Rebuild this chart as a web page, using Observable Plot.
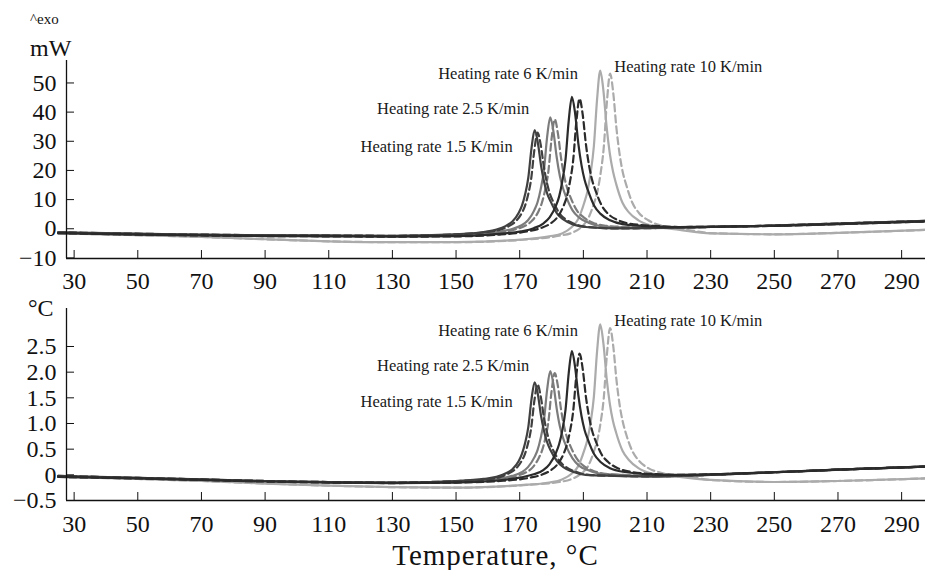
<!DOCTYPE html>
<html><head><meta charset="utf-8">
<script src="https://cdn.jsdelivr.net/npm/d3@7"></script>
<script src="https://cdn.jsdelivr.net/npm/@observablehq/plot@0.6"></script>
<style>
body{margin:0;background:#fff;}
#wrap{position:relative;width:925px;height:570px;font-family:"Liberation Serif","Times New Roman",serif;color:#111;overflow:hidden;background:#fff;}
.lab{position:absolute;line-height:1;white-space:nowrap;}
#top{position:absolute;left:0;top:0;}
#bot{position:absolute;left:0;top:290px;}
#xlab{position:absolute;left:66px;width:859px;top:541px;text-align:center;font-size:29px;letter-spacing:1px;line-height:1;}
</style></head>
<body><div id="wrap">
<div id="top"></div><div id="bot"></div>
<div class="lab" style="left:30px;top:12px;font-size:15px;">^exo</div>
<div class="lab" style="left:30px;top:36px;font-size:24px;">mW</div>
<div class="lab" style="left:28px;top:296px;font-size:24px;">°C</div>
<div id="xlab">Temperature, °C</div>
</div>
<script>
// ---------- data ----------
const xTicks = [30, 50, 70, 90, 110, 130, 150, 170, 190, 210, 230, 250, 270, 290];
const mwTicks = [-10, 0, 10, 20, 30, 40, 50];
const cTicks = [-0.5, 0, 0.5, 1, 1.5, 2, 2.5];
const rates = ["1.5", "2.5", "6", "10"];

// DSC signal, mW  ([temperature °C, value])
const mw15 = [[25,-1.2],[50,-1.7],[70,-2.0],[90,-2.2],[110,-2.3],[130,-2.4],[149.7,-1.9],[158.7,-1.1],[162.7,-0.3],[165.7,1.0],[167.7,2.5],[169.7,5.5],[170.7,7.9],[171.7,11.8],[172.7,17.5],[173.7,27.6],[174.7,33.8],[175.7,29.5],[176.7,21.7],[177.7,15.9],[178.7,11.9],[179.7,9.4],[181.7,5.3],[183.7,3.2],[186.7,1.5],[190.7,0.6],[199.7,0.1],[210,0.2],[220,0.4],[230,0.6],[250,1.1],[270,1.8],[297.5,2.7]];
const mw15d = [[25,-1.2],[50,-1.7],[70,-2.0],[90,-2.2],[110,-2.3],[130,-2.4],[150.6,-1.9],[159.6,-1.1],[163.6,-0.4],[166.6,0.9],[168.6,2.4],[170.6,5.3],[171.6,7.7],[172.6,11.5],[173.6,17.1],[174.6,27.0],[175.6,33.0],[176.6,28.8],[177.6,21.2],[178.6,15.5],[179.6,11.6],[180.6,9.1],[182.6,5.1],[184.6,3.1],[187.6,1.5],[191.6,0.6],[200.6,0.1],[210,0.2],[220,0.4],[230,0.6],[250,1.1],[270,1.8],[297.5,2.7]];
const mw25 = [[25,-1.3],[50,-1.8],[70,-2.1],[90,-2.3],[110,-2.4],[130,-2.5],[154.6,-1.9],[163.6,-1.0],[167.6,-0.1],[170.6,1.2],[172.6,2.9],[174.6,6.4],[175.6,9.1],[176.6,13.6],[177.6,19.9],[178.6,31.3],[179.6,38.2],[180.6,33.3],[181.6,24.7],[182.6,18.2],[183.6,13.9],[184.6,10.9],[186.6,6.3],[188.6,3.9],[191.6,2.1],[195.6,0.9],[204.6,0.4],[215,0.3],[230,0.6],[250,1.1],[270,1.8],[297.5,2.6]];
const mw25d = [[25,-1.3],[50,-1.8],[70,-2.1],[90,-2.3],[110,-2.4],[130,-2.5],[156,-1.9],[165,-1.1],[169,-0.1],[172,1.2],[174,2.9],[176,6.2],[177,9.0],[178,13.4],[179,19.6],[180,30.7],[181,37.5],[182,32.7],[183,24.2],[184,17.9],[185,13.6],[186,10.7],[188,6.2],[190,4.0],[193,2.1],[197,1.0],[206,0.5],[215,0.3],[230,0.6],[250,1.1],[270,1.8],[297.5,2.6]];
const mw6 = [[25,-1.5],[50,-2.0],[70,-2.3],[90,-2.5],[110,-2.6],[130,-2.7],[150,-2.5],[161.4,-1.9],[170.4,-0.9],[174.4,0.2],[177.4,1.8],[179.4,3.9],[181.4,7.9],[182.4,11.1],[183.4,16.4],[184.4,23.8],[185.4,37.1],[186.4,45.2],[187.4,39.6],[188.4,29.4],[189.4,21.9],[190.4,16.7],[191.4,13.3],[193.4,7.9],[195.4,5.1],[198.4,2.9],[202.4,1.6],[211.4,0.8],[220,0.6],[230,0.7],[250,1.0],[270,1.6],[297.5,2.5]];
const mw6d = [[25,-1.5],[50,-2.0],[70,-2.3],[90,-2.5],[110,-2.6],[130,-2.7],[150,-2.6],[163.8,-2.0],[172.8,-0.8],[176.8,0.3],[179.8,1.9],[181.8,3.9],[183.8,7.9],[184.8,11.0],[185.8,16.2],[186.8,23.5],[187.8,36.7],[188.8,44.6],[189.8,39.1],[190.8,29.0],[191.8,21.6],[192.8,16.5],[193.8,13.2],[195.8,7.9],[197.8,5.1],[200.8,3.0],[204.8,1.7],[213.8,0.9],[220,0.6],[230,0.7],[250,1.0],[270,1.6],[297.5,2.5]];
const mw10 = [[25,-1.6],[50,-2.2],[70,-2.8],[90,-3.6],[110,-4.3],[130,-4.6],[150,-4.6],[170.3,-3.7],[179.3,-2.6],[183.3,-1.6],[186.3,0.5],[188.3,3.2],[190.3,9.0],[191.3,12.9],[192.3,19.2],[193.3,28.3],[194.3,44.3],[195.3,54.2],[196.3,47.4],[197.3,35.0],[198.3,25.9],[199.3,19.7],[200.3,15.4],[202.3,8.9],[204.3,5.6],[207.3,2.9],[211.3,1.1],[220.3,-0.4],[230,-1.6],[250,-1.9],[270,-1.4],[297.5,-0.4]];
const mw10d = [[25,-1.6],[50,-2.2],[70,-2.8],[90,-3.6],[110,-4.3],[130,-4.6],[150,-4.6],[173.4,-3.6],[182.4,-2.4],[186.4,-1.4],[189.4,0.6],[191.4,3.3],[193.4,8.9],[194.4,12.7],[195.4,18.9],[196.4,27.8],[197.4,43.5],[198.4,53.2],[199.4,46.5],[200.4,34.4],[201.4,25.5],[202.4,19.3],[203.4,15.3],[205.4,8.9],[207.4,5.5],[210.4,2.9],[214.4,1.1],[223.4,-0.5],[230,-1.5],[250,-1.9],[270,-1.4],[297.5,-0.4]];

// temperature difference signal, °C
const c15 = [[25,-0.02],[50,-0.06],[70,-0.09],[90,-0.12],[110,-0.14],[130,-0.15],[149.7,-0.12],[158.7,-0.08],[162.7,-0.04],[165.7,0.03],[167.7,0.11],[169.7,0.27],[170.7,0.41],[171.7,0.62],[172.7,0.93],[173.7,1.47],[174.7,1.80],[175.7,1.57],[176.7,1.15],[177.7,0.84],[178.7,0.62],[179.7,0.48],[181.7,0.27],[183.7,0.15],[186.7,0.06],[190.7,0.00],[199.7,-0.02],[210,-0.03],[220,-0.02],[230,0.00],[250,0.05],[270,0.10],[297.5,0.16]];
const c15d = [[25,-0.02],[50,-0.06],[70,-0.09],[90,-0.12],[110,-0.14],[130,-0.15],[150.6,-0.12],[159.6,-0.09],[163.6,-0.05],[166.6,0.03],[168.6,0.11],[170.6,0.27],[171.6,0.40],[172.6,0.61],[173.6,0.91],[174.6,1.44],[175.6,1.76],[176.6,1.53],[177.6,1.12],[178.6,0.82],[179.6,0.61],[180.6,0.47],[182.6,0.26],[184.6,0.15],[187.6,0.06],[191.6,0.00],[200.6,-0.02],[210,-0.03],[220,-0.02],[230,0.00],[250,0.05],[270,0.10],[297.5,0.16]];
const c25 = [[25,-0.03],[50,-0.06],[70,-0.09],[90,-0.12],[110,-0.14],[130,-0.15],[154.6,-0.12],[163.6,-0.08],[167.6,-0.02],[170.6,0.05],[172.6,0.15],[174.6,0.34],[175.6,0.48],[176.6,0.72],[177.6,1.05],[178.6,1.65],[179.6,2.02],[180.6,1.76],[181.6,1.30],[182.6,0.95],[183.6,0.72],[184.6,0.56],[186.6,0.32],[188.6,0.18],[191.6,0.09],[195.6,0.02],[204.6,-0.01],[210,-0.03],[220,-0.02],[230,0.00],[250,0.05],[270,0.10],[297.5,0.16]];
const c25d = [[25,-0.03],[50,-0.06],[70,-0.09],[90,-0.12],[110,-0.14],[130,-0.15],[156,-0.12],[165,-0.08],[169,-0.02],[172,0.05],[174,0.14],[176,0.33],[177,0.47],[178,0.70],[179,1.03],[180,1.62],[181,1.98],[182,1.73],[183,1.27],[184,0.93],[185,0.70],[186,0.55],[188,0.31],[190,0.18],[193,0.08],[197,0.02],[206,-0.01],[215,-0.03],[230,0.00],[250,0.05],[270,0.10],[297.5,0.16]];
const c6 = [[25,-0.04],[50,-0.07],[70,-0.10],[90,-0.13],[110,-0.15],[130,-0.16],[150,-0.15],[161.4,-0.12],[170.4,-0.05],[174.4,0.01],[177.4,0.09],[179.4,0.21],[181.4,0.43],[182.4,0.60],[183.4,0.87],[184.4,1.27],[185.4,1.98],[186.4,2.41],[187.4,2.10],[188.4,1.56],[189.4,1.15],[190.4,0.87],[191.4,0.69],[193.4,0.40],[195.4,0.25],[198.4,0.13],[202.4,0.06],[211.4,0.01],[220,0.00],[230,0.01],[250,0.05],[270,0.10],[297.5,0.16]];
const c6d = [[25,-0.04],[50,-0.07],[70,-0.10],[90,-0.13],[110,-0.15],[130,-0.16],[150,-0.15],[163.8,-0.12],[172.8,-0.06],[176.8,0.00],[179.8,0.09],[181.8,0.20],[183.8,0.41],[184.8,0.58],[185.8,0.85],[186.8,1.24],[187.8,1.94],[188.8,2.36],[189.8,2.06],[190.8,1.52],[191.8,1.13],[192.8,0.85],[193.8,0.67],[195.8,0.39],[197.8,0.25],[200.8,0.13],[204.8,0.06],[213.8,0.01],[220,0.00],[230,0.01],[250,0.05],[270,0.10],[297.5,0.16]];
const c10 = [[25,-0.04],[50,-0.08],[70,-0.12],[90,-0.17],[110,-0.21],[130,-0.24],[150,-0.25],[170.3,-0.20],[179.3,-0.15],[183.3,-0.09],[186.3,0.02],[188.3,0.16],[190.3,0.48],[191.3,0.69],[192.3,1.03],[193.3,1.52],[194.3,2.40],[195.3,2.93],[196.3,2.56],[197.3,1.89],[198.3,1.39],[199.3,1.05],[200.3,0.82],[202.3,0.47],[204.3,0.29],[207.3,0.13],[211.3,0.03],[220.3,-0.04],[230,-0.10],[250,-0.14],[270,-0.12],[297.5,-0.07]];
const c10d = [[25,-0.04],[50,-0.08],[70,-0.12],[90,-0.17],[110,-0.21],[130,-0.24],[150,-0.25],[173.4,-0.19],[182.4,-0.14],[186.4,-0.08],[189.4,0.03],[191.4,0.16],[193.4,0.47],[194.4,0.68],[195.4,1.01],[196.4,1.49],[197.4,2.34],[198.4,2.86],[199.4,2.50],[200.4,1.85],[201.4,1.36],[202.4,1.03],[203.4,0.80],[205.4,0.46],[207.4,0.28],[210.4,0.13],[214.4,0.04],[223.4,-0.04],[230,-0.10],[250,-0.14],[270,-0.12],[297.5,-0.07]];

// ---------- series tables ----------
const seriesMW = [
  {rate: "10", dashed: true, data: mw10d}, {rate: "10", dashed: false, data: mw10},
  {rate: "2.5", dashed: true, data: mw25d}, {rate: "2.5", dashed: false, data: mw25},
  {rate: "1.5", dashed: true, data: mw15d}, {rate: "1.5", dashed: false, data: mw15},
  {rate: "6", dashed: true, data: mw6d}, {rate: "6", dashed: false, data: mw6}
];
const seriesC = [
  {rate: "10", dashed: true, data: c10d}, {rate: "10", dashed: false, data: c10},
  {rate: "2.5", dashed: true, data: c25d}, {rate: "2.5", dashed: false, data: c25},
  {rate: "1.5", dashed: true, data: c15d}, {rate: "1.5", dashed: false, data: c15},
  {rate: "6", dashed: true, data: c6d}, {rate: "6", dashed: false, data: c6}
];

// ---------- styles ----------
const rateColor = {"1.5": "#404040", "2.5": "#7c7c7c", "6": "#2b2b2b", "10": "#ababab"};
const xDomain = [27.6, 297.5];
const fontFamily = "'Liberation Serif', 'Times New Roman', serif";

function panel(series, o) {
  const marks = [];
  for (const s of series) {
    const opt = {x: d => d[0], y: d => d[1], stroke: rateColor[s.rate], strokeWidth: 2.2, curve: "monotone-x"};
    if (s.dashed) opt.strokeDasharray = "7,4";
    marks.push(Plot.line(s.data, opt));
  }
  // axis lines
  marks.push(Plot.ruleY([o.yDomain[0]], {stroke: "#111", strokeWidth: 1.3}));
  marks.push(Plot.ruleX([xDomain[0]], {stroke: "#111", strokeWidth: 1.3}));
  // inward ticks
  marks.push(Plot.axisX(xTicks, {tickSize: -8, tickFormat: () => "", label: null, stroke: "#111"}));
  marks.push(Plot.axisY(o.yTicks, {tickSize: -8, tickFormat: () => "", label: null, stroke: "#111"}));
  // tick labels
  marks.push(Plot.axisX(xTicks, {tickSize: 0, tickPadding: o.xPad, fontSize: 24, label: null, fill: "#111"}));
  marks.push(Plot.axisY(o.yTicks, {tickSize: 0, tickPadding: 10, fontSize: 24, label: null, fill: "#111", tickFormat: o.yFormat}));
  // peak annotations
  rates.forEach((r, i) => {
    const s = series.find(d => d.rate === r && !d.dashed);
    const peak = d3.greatest(s.data, d => d[1]);
    const off = o.labelOffsets[i];
    marks.push(Plot.text([peak], {x: d => d[0], y: d => d[1], text: () => `Heating rate ${r} K/min`,
      textAnchor: off.anchor, dx: off.dx, dy: off.dy, fontSize: 16.5, fill: "#1a1a1a"}));
  });
  return Plot.plot({
    width: 925, height: o.height,
    marginLeft: 66, marginRight: 0, marginTop: o.marginTop, marginBottom: o.marginBottom,
    x: {domain: xDomain}, y: {domain: o.yDomain},
    style: {fontFamily, fontSize: "24px", background: "transparent", color: "#111", overflow: "visible"},
    marks
  });
}

const minus = s => s.replace("-", "\u2212");
document.getElementById("top").append(panel(seriesMW, {
  yDomain: [-10.2, 57.7], yTicks: mwTicks, yFormat: d => minus(String(d)),
  height: 300, marginTop: 60, marginBottom: 42, xPad: 13,
  labelOffsets: [{anchor: "end", dx: -22, dy: 17}, {anchor: "end", dx: -21, dy: -9},
                 {anchor: "end", dx: 6, dy: -23}, {anchor: "start", dx: 14, dy: -4}]
}));
document.getElementById("bot").append(panel(seriesC, {
  yDomain: [-0.5, 3.24], yTicks: cTicks, yFormat: d => d === 0 ? "0" : minus(d3.format(".1f")(d)),
  height: 250, marginTop: 18, marginBottom: 40, xPad: 14,
  labelOffsets: [{anchor: "end", dx: -22, dy: 19}, {anchor: "end", dx: -21, dy: -5},
                 {anchor: "end", dx: 6, dy: -20}, {anchor: "start", dx: 14, dy: -4}]
}));
</script>
</body></html>
